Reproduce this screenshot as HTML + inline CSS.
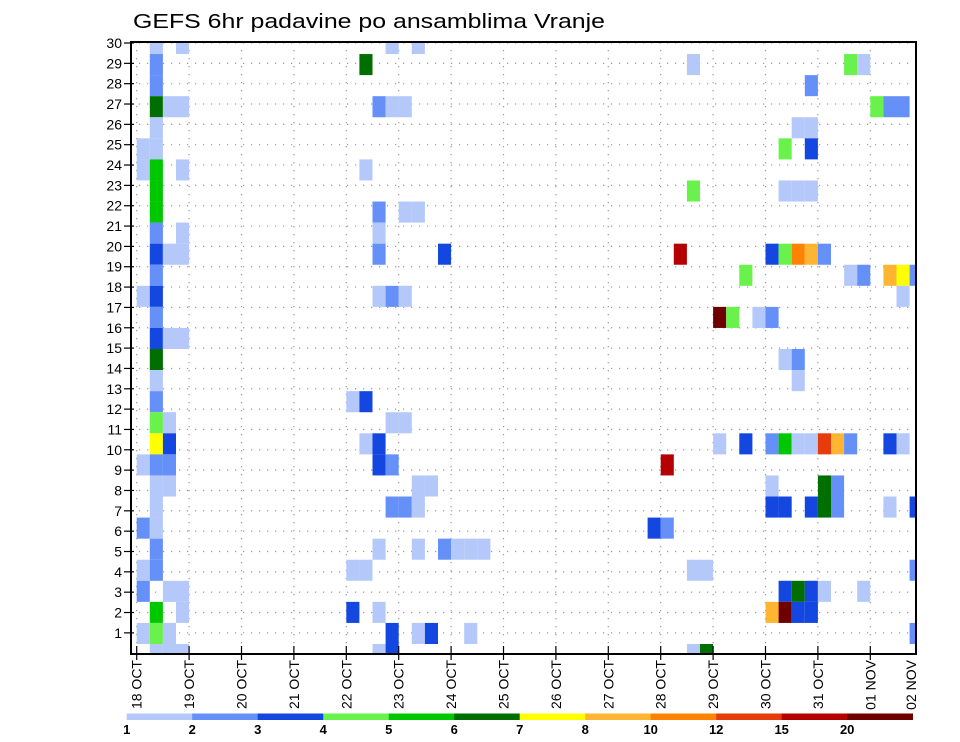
<!DOCTYPE html>
<html><head><meta charset="utf-8">
<style>
html,body{margin:0;padding:0;background:#fff;}
svg{display:block;font-family:"Liberation Sans","DejaVu Sans",sans-serif;}
</style></head>
<body>
<svg id="chart" width="960" height="742" viewBox="0 0 960 742" xmlns="http://www.w3.org/2000/svg">
<text x="133" y="28" font-size="20" textLength="472" lengthAdjust="spacingAndGlyphs" fill="#000">GEFS 6hr padavine po ansamblima Vranje</text>
<g id="grid"></g>
<g id="cells"></g>
<rect x="131" y="42" width="785" height="612" fill="none" stroke="#000" stroke-width="2"/>
<g id="yaxis"></g>
<g id="xaxis"></g>
<g id="legend"></g>
</svg>
<script>
// ---- data ----
const dayLabels = ["18 OCT","19 OCT","20 OCT","21 OCT","22 OCT","23 OCT","24 OCT","25 OCT","26 OCT","27 OCT","28 OCT","29 OCT","30 OCT","31 OCT","01 NOV","02 NOV"];
const memberTicks = [1,2,3,4,5,6,7,8,9,10,11,12,13,14,15,16,17,18,19,20,21,22,23,24,25,26,27,28,29,30];
const legendLabels = ["1","2","3","4","5","6","7","8","10","12","15","20"];
const classColors = ["#ffffff","#b4c8fa","#6490f8","#1446e0","#6af24c","#00c800","#006e00","#ffff00","#ffb432","#ff8200","#e63c0a","#b40000","#6e0000"];
// cells: time step (6h), member row index, precipitation class
const cellStep = [
0,0,0,0,0,0,0,0,
1,1,1,1,1,1,1,1,1,1,1,1,1,1,1,1,1,1,1,1,1,1,1,1,1,1,1,1,1,
2,2,2,2,2,2,2,2,2,2,
3,3,3,3,3,3,3,3,3,
19,21,17,18,19,20,17,18,20,21,18,18,23,18,19,20,16,17,19,20,17,18,18,19,21,22,19,20,21,18,21,23,24,25,26,16,17,16,18,19,21,22,25,18,19,
42,54,55,51,56,57,58,50,51,49,51,42,49,50,51,41,48,49,50,51,52,46,54,55,57,58,59,58,44,45,47,48,49,50,50,
44,46,48,49,50,51,52,53,54,57,58,40,48,52,53,48,49,51,52,53,57,59,39,40,42,43,59,49,50,51,52,55,48,49,50,51,59,42,43];
const cellMember = [
24,23,17,9,6,4,3,1,
29,28,27,26,25,24,23,22,21,20,19,18,17,16,15,14,13,12,11,10,9,8,7,6,5,4,2,1,0,
26,19,15,11,10,9,8,3,1,0,
29,26,23,20,19,15,3,2,0,
29,29,28,26,26,26,23,21,21,21,20,19,19,17,17,17,12,12,11,11,10,10,9,9,8,8,7,7,7,5,5,5,5,5,5,4,4,2,2,1,1,1,1,0,0,
28,28,28,27,26,26,26,25,25,24,24,22,22,22,22,19,19,19,19,19,19,18,18,18,18,18,18,17,16,16,16,16,14,14,13,
10,10,10,10,10,10,10,10,10,10,10,9,8,8,8,7,7,7,7,7,7,7,6,6,4,4,4,3,3,3,3,3,2,2,2,2,1,0,0];
const cellClass = [
1,1,1,1,2,1,2,1,
1,2,2,6,1,1,5,5,5,2,3,2,3,2,3,6,1,2,4,7,2,1,1,1,2,2,5,4,1,
1,1,1,1,3,2,1,1,1,1,
1,1,1,1,1,1,1,1,1,
1,1,6,2,1,1,1,2,1,1,1,2,3,1,2,1,1,3,1,1,1,3,3,2,1,1,2,2,1,1,1,2,1,1,1,1,1,3,1,3,1,3,1,1,3,
1,4,1,2,4,2,2,1,1,4,3,4,1,1,1,11,3,4,9,8,2,4,1,2,8,7,2,1,12,4,1,2,1,2,1,
1,3,2,5,1,1,10,8,2,3,1,11,1,6,2,3,3,3,6,2,1,3,3,2,1,1,2,3,6,3,1,1,8,12,3,3,2,1,6];

// ---- axis functions ----
const PL=131, PR=916, PT=42, PB=654;
const stepW = 13.1, x0 = 136.7;
function xStep(k){ return x0 + stepW*k; }          // left edge of step k
function xDay(d){ return x0 + 4*stepW*d; }          // day line
const cellH = 21.07;
function yCellTop(i){ return 644 - cellH*i; }       // member row i
function yTick(m){ return 43 + (30-m)*20.34; }      // labelled member tick
const NS="http://www.w3.org/2000/svg";
function mk(tag, attrs, parent){ const e=document.createElementNS(NS,tag); for(const k in attrs) e.setAttribute(k,attrs[k]); parent.appendChild(e); return e; }

// grid
const grid=document.getElementById('grid');
memberTicks.forEach(m=>{
  const l=mk('line',{x1:PL,x2:PR,y1:yTick(m),y2:yTick(m),stroke:'#999','stroke-width':1.2,'stroke-dasharray':'1.2,6.8'},grid);
  
  
});
dayLabels.forEach((d,i)=>{
  const x=xDay(i); if(x>PR) return;
  const l=mk('line',{x1:x,x2:x,y1:PT,y2:PB,stroke:'#999','stroke-width':1.2,'stroke-dasharray':'1.2,6.8'},grid);
  
  
});

// cells
const cells=document.getElementById('cells');
for(let n=0;n<cellStep.length;n++){
  let xl=xStep(cellStep[n]), xr=xl+stepW;
  let yt=yCellTop(cellMember[n]), yb=yt+cellH;
  xl=Math.max(xl,PL); xr=Math.min(xr,PR); yt=Math.max(yt,PT); yb=Math.min(yb,PB);
  if(xr<=xl||yb<=yt) continue;
  const r=mk('rect',{x:xl,y:yt,width:xr-xl,height:yb-yt,fill:classColors[cellClass[n]]},cells);
  
  
}

// y axis
const ya=document.getElementById('yaxis');
memberTicks.forEach(m=>{
  const y=yTick(m);
  const t=mk('line',{x1:124,x2:134,y1:y,y2:y,stroke:'#000','stroke-width':1.2},ya);
  
  
  const tx=mk('text',{x:122,y:y+5,'text-anchor':'end','font-size':14,fill:'#000'},ya);
  tx.textContent=String(m);
  
  
});

// x axis
const xa=document.getElementById('xaxis');
dayLabels.forEach((d,i)=>{
  let x=xDay(i);
  if(x<=PR){
    const t=mk('line',{x1:x,x2:x,y1:646,y2:660,stroke:'#000','stroke-width':1.2},xa);
    
    
  }
  const lx=Math.min(x,911)+5, ly=660;
  const tx=mk('text',{x:lx,y:ly,'text-anchor':'end','font-size':14,fill:'#000',transform:`rotate(-90 ${lx} ${ly})`,'xml:space':'preserve'},xa);
  tx.textContent=d.replace(' ','  ');
  
  
});

// legend
const lg=document.getElementById('legend');
const segW=65.5, lx0=126.7;
for(let c=1;c<classColors.length;c++){
  const r=mk('rect',{x:lx0+segW*(c-1),y:713.5,width:segW+0.3,height:6.5,fill:classColors[c]},lg);
  
  
}
legendLabels.forEach((s,i)=>{
  const t=mk('text',{x:lx0+segW*i,y:734,'text-anchor':'middle','font-size':13,'font-weight':'bold',fill:'#000'},lg);
  t.textContent=s;
  
  
});
</script>
</body></html>
